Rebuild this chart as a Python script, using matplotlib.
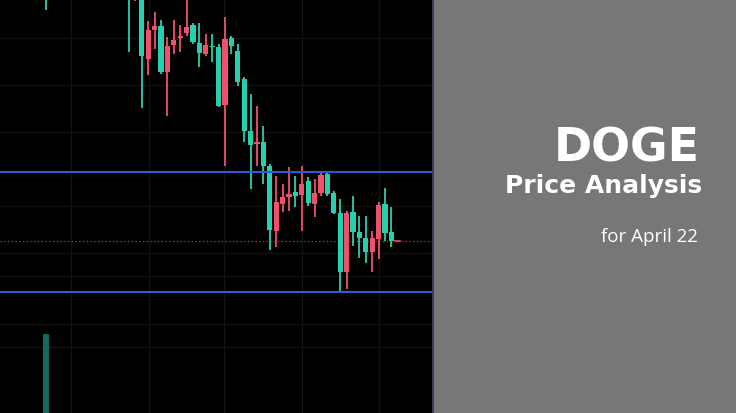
import matplotlib
matplotlib.use("Agg")
import matplotlib.pyplot as plt
import numpy as np

# ---- data (price units) ----
idx = [-13] + list(range(0, 42))
opens = [0.1605, 0.1605, 0.1630, 0.1543, 0.1569, 0.1573, 0.1527, 0.1553, 0.1559, 0.1563, 0.1572,
         0.1557, 0.1546, 0.1554, 0.1552, 0.1493, 0.1560, 0.1553, 0.1517, 0.1468, 0.1454,
         0.1457, 0.1433, 0.1369, 0.1397, 0.1402, 0.1405, 0.1403, 0.1415, 0.1396, 0.1406,
         0.1424, 0.1405, 0.1386, 0.1327, 0.1386, 0.1367, 0.1361, 0.1347, 0.1361, 0.1394,
         0.1366, 0.1358]
closes = [0.1620, 0.1620, 0.1610, 0.1610, 0.1540, 0.1569, 0.1573, 0.1527, 0.1554, 0.1561, 0.1566,
          0.1574, 0.1556, 0.1545, 0.1553, 0.1552, 0.1494, 0.1561, 0.1548, 0.1520, 0.1468,
          0.1455, 0.1457, 0.1433, 0.1368, 0.1395, 0.1402, 0.1407, 0.1404, 0.1418, 0.1395,
          0.1406, 0.1425, 0.1406, 0.1386, 0.1327, 0.1387, 0.1367, 0.1361, 0.1347, 0.1360,
          0.1395, 0.1367]
highs = [0.1625, 0.1625, 0.1640, 0.1620, 0.1578, 0.1587, 0.1579, 0.1562, 0.1579, 0.1574, 0.1600,
         0.1576, 0.1576, 0.1565, 0.1565, 0.1555, 0.1582, 0.1563, 0.1555, 0.1522, 0.1505,
         0.1493, 0.1473, 0.1435, 0.1423, 0.1415, 0.1432, 0.1423, 0.1433, 0.1422, 0.1420,
         0.1427, 0.1428, 0.1408, 0.1400, 0.1388, 0.1403, 0.1383, 0.1383, 0.1368, 0.1397,
         0.1411, 0.1392]
lows = [0.1589, 0.1547, 0.1598, 0.1491, 0.1524, 0.1550, 0.1525, 0.1483, 0.1545, 0.1547, 0.1563,
        0.1555, 0.1532, 0.1543, 0.1537, 0.1492, 0.1433, 0.1545, 0.1513, 0.1457, 0.1410,
        0.1433, 0.1415, 0.1349, 0.1352, 0.1387, 0.1388, 0.1392, 0.1368, 0.1393, 0.1382,
        0.1403, 0.1403, 0.1385, 0.1307, 0.1310, 0.1353, 0.1341, 0.1336, 0.1327, 0.1340,
        0.1358, 0.1352]

vol_idx = [-13]
vol_vals = [79]

resistance = 0.1427
support = 0.1307
last_price = 0.1358

title_main = "DOGE"
title_sub = "Price Analysis"
title_date = "for April 22"

# ---- style ----
UP = "#26d0ae"
DOWN = "#f0506c"
W, H = 736, 414
fig = plt.figure(figsize=(W / 100, H / 100), dpi=100)
fig.patch.set_facecolor("#000000")

ax = fig.add_axes([0, 0, 432 / W, 1])
ax.set_facecolor("#030303")
ax.set_xlim(-129 / 6.4, (432 - 129) / 6.4)
ax.set_ylim(0.16 - 0.0414, 0.16)
ax.axis("off")

# grid
for gx in [71, 149, 224, 302, 379]:
    ax.axvline((gx - 129) / 6.4, color="#131313", lw=1, zorder=0)
for gy in [39, 86, 133, 207, 254, 277, 325, 348]:
    ax.axhline(0.16 - gy * 0.0001, color="#111111", lw=1, zorder=0)

# volume
axv = ax.twinx()
axv.set_ylim(0, 414)
axv.set_xlim(ax.get_xlim())
axv.axis("off")
axv.bar(vol_idx, vol_vals, width=0.95, color="#12695d", zorder=1)

# candles
for x, o, c, h, l in zip(idx, opens, closes, highs, lows):
    col = UP if c >= o else DOWN
    ax.vlines(x, l, h, color=col, lw=1.3, zorder=3)
    lo, hi = min(o, c), max(o, c)
    ax.bar(x, max(hi - lo, 0.00015), bottom=lo, width=0.8, color=col, zorder=4, linewidth=0)

ax.axhline(resistance, color="#2b5bd6", lw=1.5, zorder=5)
ax.axhline(support, color="#2b5bd6", lw=1.5, zorder=5)
ax.axhline(last_price, color="#c03848", lw=0.9, ls=(0, (1, 2)), zorder=2)
ax.plot([41.6, 42.4], [last_price, last_price], color=DOWN, lw=1.2, zorder=5)

# right panel
axr = fig.add_axes([432 / W, 0, 304 / W, 1])
axr.set_facecolor("#777777")
axr.set_xticks([]); axr.set_yticks([])
for s in axr.spines.values():
    s.set_visible(False)
axr.axvline(0.002, color="#3d2d5c", lw=1.2)

def px(x, y):
    return x / W, 1 - y / H

fig.text(*px(700, 162), title_main, ha="right", va="baseline", color="white",
         fontsize=33, fontweight="bold", family="DejaVu Sans")
fig.text(*px(702, 193), title_sub, ha="right", va="baseline", color="white",
         fontsize=18, fontweight="bold", family="DejaVu Sans")
fig.text(*px(698, 242), title_date, ha="right", va="baseline", color="white",
         fontsize=13.5, family="Open Sans")

fig.savefig("out.png", dpi=100, facecolor=fig.get_facecolor())
